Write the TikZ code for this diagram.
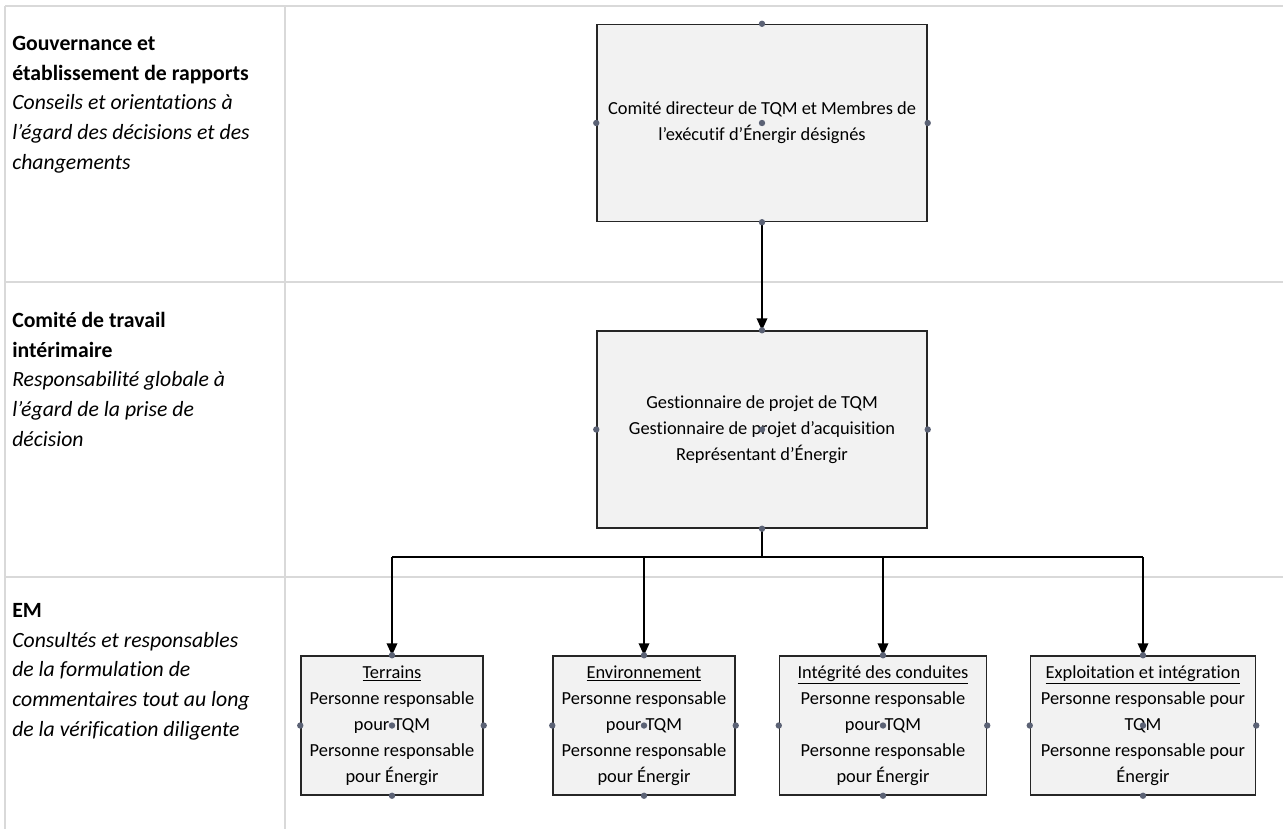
\documentclass[tikz,border=0pt]{standalone}
\usepackage{fontspec}
\setmainfont{Carlito}[Ligatures=NoCommon]
\usetikzlibrary{arrows.meta}
\definecolor{gridgray}{HTML}{D9D9D9}
\definecolor{boxfill}{HTML}{F2F2F2}
\definecolor{handle}{HTML}{5B6275}

\begin{document}
\begin{tikzpicture}[
        x=0.75pt, y=-0.75pt,
        >={Triangle[length=9pt,width=8pt]},
        grid/.style={draw=gridgray, line width=1.2pt},
        base/.style={draw=black!85, fill=boxfill, line width=1.1pt, align=center, inner sep=2pt, font=\fontsize{13.8}{19.5}\selectfont},
        big/.style={base, minimum width=247.5pt, minimum height=147.75pt},
        team/.style={base, minimum height=104.25pt},
        link/.style={draw=black, line width=1.1pt},
        flow/.style={link, ->},
        role/.style={anchor=north west, align=left, inner sep=0pt, font=\fontsize{16.3}{22.3}\selectfont}
    ]
        \useasboundingbox (0,0) rectangle (1283,829);

        \draw[grid] (5,6) -- (1283,6);
        \draw[grid] (5,282) -- (1283,282);
        \draw[grid] (5,577) -- (1283,577);
        \draw[grid] (5,6) -- (5,829);
        \draw[grid] (285,6) -- (285,829);

        \node[role] (gouv) at (12,36) {\textbf{Gouvernance et}\\ \textbf{établissement de rapports}\\ \textit{Conseils et orientations à}\\ \textit{l’égard des décisions et des}\\ \textit{changements}};
        \node[role] (interim) at (12,312) {\textbf{Comité de travail}\\ \textbf{intérimaire}\\ \textit{Responsabilité globale à}\\ \textit{l’égard de la prise de}\\ \textit{décision}};
        \node[role] (em) at (12,603) {\textbf{EM}\\ \textit{Consultés et responsables}\\ \textit{de la formulation de}\\ \textit{commentaires tout au long}\\ \textit{de la vérification diligente}};

        \node[big] (steer) at (762,123) {Comité directeur de TQM et Membres de\\ l’exécutif d’Énergir désignés};
        \node[big] (work) at (762,429.5) {Gestionnaire de projet de TQM\\ Gestionnaire de projet d’acquisition\\ Représentant d’Énergir};

        \node[team, minimum width=136.5pt] (land) at (392,725.5) {\underline{Terrains}\\ Personne responsable\\ pour TQM\\ Personne responsable\\ pour Énergir};
        \node[team, minimum width=136.5pt] (env) at (644,725.5) {\underline{Environnement}\\ Personne responsable\\ pour TQM\\ Personne responsable\\ pour Énergir};
        \node[team, minimum width=155.25pt] (pipe) at (883,725.5) {\underline{Intégrité des conduites}\\ Personne responsable\\ pour TQM\\ Personne responsable\\ pour Énergir};
        \node[team, minimum width=168.75pt] (ops) at (1143,725.5) {\underline{Exploitation et intégration}\\ Personne responsable pour\\ TQM\\ Personne responsable pour\\ Énergir};

        \coordinate (split) at (762,557);
        \draw[flow] (steer) -- (work);
        \draw[link] (work.south) -- (split);
        \draw[link] (split -| land) -- (split -| ops);
        \foreach \n in {land,env,pipe,ops}
            \draw[flow] (split -| \n) -- (\n.north);

        \foreach \n in {steer,work,land,env,pipe,ops}
            \foreach \a in {north,south,east,west,center}
                \fill[handle] (\n.\a) circle (3.2);
    \end{tikzpicture}
\end{document}
